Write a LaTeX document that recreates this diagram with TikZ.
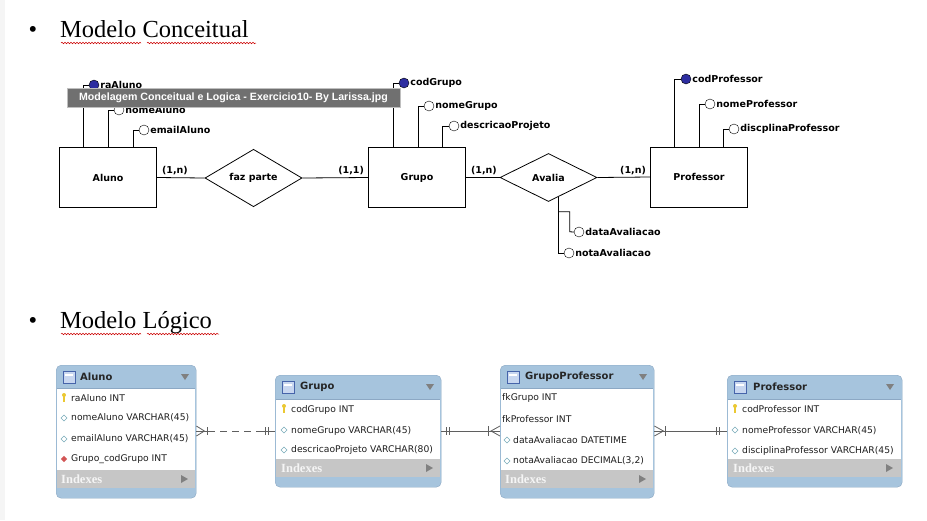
\documentclass[tikz,border=0pt]{standalone}
\usepackage{fontspec}
\setmainfont{Liberation Serif}
\newfontfamily\erfont{DejaVu Sans}
\newfontfamily\tipfont{Liberation Sans}
\usetikzlibrary{shapes.geometric,decorations.pathmorphing}

\definecolor{pkblue}{RGB}{45,45,160}
\definecolor{hdrblue}{RGB}{166,196,221}
\definecolor{tblborder}{RGB}{140,168,196}
\definecolor{idxgray}{RGB}{198,198,198}
\definecolor{linkgray}{RGB}{95,95,95}
\definecolor{rowtxt}{RGB}{30,30,30}
\definecolor{tipgray}{RGB}{112,112,112}
\definecolor{keyyellow}{RGB}{235,200,50}
\definecolor{fkred}{RGB}{210,85,85}
\definecolor{attrcyan}{RGB}{120,170,185}
\definecolor{iconblue}{RGB}{70,100,170}
\definecolor{iconfill}{RGB}{200,215,240}

\tikzset{
  title/.style={font=\fontsize{24.5}{28}\selectfont, inner sep=0pt},
  squiggle/.style={red!80!black, line width=0.5pt, decorate,
    decoration={snake, amplitude=0.8pt, segment length=3pt}},
  entity/.style={draw, line width=0.9pt, minimum width=97pt, minimum height=60pt,
    font=\erfont\bfseries\fontsize{9.5}{11}\selectfont},
  relation/.style={draw, diamond, line width=0.8pt, minimum width=97pt, minimum height=48pt,
    inner sep=0pt, font=\erfont\bfseries\fontsize{9.5}{11}\selectfont},
  attr/.style={circle, draw, fill=white, minimum size=10pt, inner sep=0pt},
  keyattr/.style={attr, fill=pkblue},
  erlabel/.style={font=\erfont\bfseries\fontsize{9.5}{11}\selectfont, inner sep=1pt},
  card/.style={font=\erfont\bfseries\fontsize{9.5}{11}\selectfont, inner sep=1pt},
  erline/.style={line width=0.8pt},
  tooltip/.style={fill=tipgray, draw=gray!50, text=white,
    font=\tipfont\bfseries\fontsize{10.6}{13}\selectfont, minimum width=333pt, minimum height=19pt, inner sep=0pt},
  tablebox/.style={draw=tblborder, fill=hdrblue, rounded corners=5pt, anchor=north west, inner sep=0pt},
  tabletitle/.style={anchor=west, inner sep=0pt, font=\erfont\bfseries\fontsize{10}{12}\selectfont, text=black!85},
  rowtext/.style={anchor=west, inner sep=0pt, font=\erfont\fontsize{9.2}{10}\selectfont, text=rowtxt},
  idxtext/.style={anchor=west, inner sep=0pt, font=\bfseries\fontsize{12.5}{14}\selectfont, text=white!92!gray},
  link/.style={linkgray, line width=0.8pt},
}

\begin{document}
\begin{tikzpicture}[x=1pt, y=-1pt]
        \fill[white] (0,0) rectangle (927,520);
        \fill[gray!8] (0,0) rectangle (5,520);
        \useasboundingbox (0,0) rectangle (927,520);
        %% titles
        \node[title, anchor=base] (bConc) at (33,37) {\textbullet};
        \node[title, anchor=base west] (tConc) at (60,37) {Modelo Conceitual};
        \draw[squiggle] (61,43) -- (141,43);
        \draw[squiggle] (147,43) -- (256,43);
        \node[title, anchor=base] (bLog) at (33,328) {\textbullet};
        \node[title, anchor=base west] (tLog) at (60,328) {Modelo Lógico};
        \draw[squiggle] (61,334) -- (141,334);
        \draw[squiggle] (147,334) -- (219,334);
        %% conceptual model
        \node[entity] (aluno) at (108,177.5) {Aluno};
        \node[entity] (grupo) at (417,177.5) {Grupo};
        \node[entity] (professor) at (699,177) {Professor};
        \node[relation] (fazparte) at (253.5,178) {faz parte};
        \node[relation] (avalia) at (548.5,177.5) {Avalia};
        \draw[erline] (aluno.east) -- (fazparte.west);
        \draw[erline] (fazparte.east) -- (grupo.west);
        \draw[erline] (grupo.east) -- (avalia.west);
        \draw[erline] (avalia.east) -- (professor.west);
        \node[card, anchor=south west] at ([xshift=4pt,yshift=1pt]aluno.east) {(1,n)};
        \node[card, anchor=south east] at ([xshift=-3pt,yshift=1pt]grupo.west) {(1,1)};
        \node[card, anchor=south west] at ([xshift=4pt,yshift=1pt]grupo.east) {(1,n)};
        \node[card, anchor=south east] at ([xshift=-3pt,yshift=1pt]professor.west) {(1,n)};
        % Aluno attributes
        \node[keyattr, label={[erlabel]right:raAluno}] (raAluno) at (94,85) {};
        \node[attr, label={[erlabel]right:nomeAluno}] (nomeAluno) at (119,110) {};
        \node[attr, label={[erlabel]right:emailAluno}] (emailAluno) at (144,130) {};
        \draw[erline] (raAluno.west) -| ([xshift=-25pt]aluno.north);
        \draw[erline] (nomeAluno.west) -| (aluno.north);
        \draw[erline] (emailAluno.west) -| ([xshift=25pt]aluno.north);
        % Grupo attributes
        \node[keyattr, label={[erlabel]right:codGrupo}] (codGrupo) at (404,83) {};
        \node[attr, label={[erlabel]right:nomeGrupo}] (nomeGrupo) at (429,106) {};
        \node[attr, label={[erlabel]right:descricaoProjeto}] (descricaoProjeto) at (454,126) {};
        \draw[erline] (codGrupo.west) -| ([xshift=-24pt]grupo.north);
        \draw[erline] (nomeGrupo.west) -| ([xshift=1pt]grupo.north);
        \draw[erline] (descricaoProjeto.west) -| ([xshift=25pt]grupo.north);
        % Professor attributes
        \node[keyattr, label={[erlabel]right:codProfessor}] (codProfessor) at (686,79) {};
        \node[attr, label={[erlabel]right:nomeProfessor}] (nomeProfessor) at (710,104) {};
        \node[attr, label={[erlabel]right:discplinaProfessor}] (discplinaProfessor) at (734,129) {};
        \draw[erline] (codProfessor.west) -| ([xshift=-25pt]professor.north);
        \draw[erline] (nomeProfessor.west) -| (professor.north);
        \draw[erline] (discplinaProfessor.west) -| ([xshift=24pt]professor.north);
        % Avalia attributes
        \node[attr, label={[erlabel]right:dataAvaliacao}] (dataAvaliacao) at (579,232) {};
        \node[attr, label={[erlabel]right:notaAvaliacao}] (notaAvaliacao) at (569,253) {};
        \draw[erline] (avalia.-62) |- (notaAvaliacao.west);
        \draw[erline] (avalia.-62) ++(0,15) -| ++(11,20) -- (dataAvaliacao.west);
        % file name tooltip
        \node[tooltip] (tip) at (233.5,97.5) {Modelagem Conceitual e Logica - Exercicio10- By Larissa.jpg};
        %% logical model
        % Aluno
        \node[tablebox, minimum width=140pt, minimum height=133pt] (tAluno) at (56,365) {};
        \fill[white] (56.6,388) rectangle (195.4,470);
        \fill[idxgray] (56.6,470) rectangle (195.4,488);
        \draw[tblborder] (56.6,388) -- (195.4,388);
        \draw[iconblue, fill=iconfill] (63,371) rectangle (75,383);
        \draw[white, line width=1.2pt] (65,375) -- (73,375);
        \node[tabletitle] (hAluno) at (80,377) {Aluno};
        \fill[gray] (181,374) -- (189,374) -- (185,380) -- cycle;
        \fill[keyyellow] (64,395) circle (2pt);
        \fill[keyyellow] (63.3,396) rectangle (64.7,402);
        \draw[attrcyan] (64,418) +(-3,0) -- +(0,-3) -- +(3,0) -- +(0,3) -- cycle;
        \draw[attrcyan] (64,439) +(-3,0) -- +(0,-3) -- +(3,0) -- +(0,3) -- cycle;
        \fill[fkred] (64,459) +(-3.2,0) -- +(0,-3.2) -- +(3.2,0) -- +(0,3.2) -- cycle;
        \node[rowtext] (aRa) at (71,398) {raAluno INT};
        \node[rowtext] (aNome) at (71,418) {nomeAluno VARCHAR(45)};
        \node[rowtext] (aEmail) at (71,439) {emailAluno VARCHAR(45)};
        \node[rowtext] (aFk) at (71,459) {Grupo\_codGrupo INT};
        \node[idxtext] (iAluno) at (61,479) {Indexes};
        \fill[gray] (181,475) -- (188,479) -- (181,483) -- cycle;
        % Grupo
        \node[tablebox, minimum width=166pt, minimum height=112pt] (tGrupo) at (275,375) {};
        \fill[white] (275.6,399) rectangle (440.4,459);
        \fill[idxgray] (275.6,459) rectangle (440.4,477);
        \draw[tblborder] (275.6,399) -- (440.4,399);
        \draw[iconblue, fill=iconfill] (282,381) rectangle (294,393);
        \draw[white, line width=1.2pt] (284,385) -- (292,385);
        \node[tabletitle] (hGrupo) at (300,387) {Grupo};
        \fill[gray] (426,384) -- (434,384) -- (430,390) -- cycle;
        \fill[keyyellow] (284,406) circle (2pt);
        \fill[keyyellow] (283.3,407) rectangle (284.7,413);
        \draw[attrcyan] (284,430) +(-3,0) -- +(0,-3) -- +(3,0) -- +(0,3) -- cycle;
        \draw[attrcyan] (284,450) +(-3,0) -- +(0,-3) -- +(3,0) -- +(0,3) -- cycle;
        \node[rowtext] (gCod) at (291,409.5) {codGrupo INT};
        \node[rowtext] (gNome) at (291,431) {nomeGrupo VARCHAR(45)};
        \node[rowtext] (gDesc) at (291,450) {descricaoProjeto VARCHAR(80)};
        \node[idxtext] (iGrupo) at (281,468) {Indexes};
        \fill[gray] (426,464) -- (433,468) -- (426,472) -- cycle;
        % GrupoProfessor
        \node[tablebox, minimum width=154pt, minimum height=133pt] (tGP) at (500,365) {};
        \fill[white] (500.6,388) rectangle (653.4,470);
        \fill[idxgray] (500.6,470) rectangle (653.4,488);
        \draw[tblborder] (500.6,388) -- (653.4,388);
        \draw[iconblue, fill=iconfill] (507,371) rectangle (519,383);
        \draw[white, line width=1.2pt] (509,375) -- (517,375);
        \node[tabletitle] (hGP) at (525,377) {GrupoProfessor};
        \fill[gray] (639,374) -- (647,374) -- (643,380) -- cycle;
        \draw[attrcyan] (507,440) +(-3,0) -- +(0,-3) -- +(3,0) -- +(0,3) -- cycle;
        \draw[attrcyan] (507,461) +(-3,0) -- +(0,-3) -- +(3,0) -- +(0,3) -- cycle;
        \node[rowtext] (gpGrupo) at (502,398) {fkGrupo INT};
        \node[rowtext] (gpProf) at (502,419) {fkProfessor INT};
        \node[rowtext] (gpData) at (513,440) {dataAvaliacao DATETIME};
        \node[rowtext] (gpNota) at (513,461) {notaAvaliacao DECIMAL(3,2)};
        \node[idxtext] (iGP) at (505,479) {Indexes};
        \fill[gray] (639,475) -- (646,479) -- (639,483) -- cycle;
        % Professor
        \node[tablebox, minimum width=175pt, minimum height=112pt] (tProf) at (727,375) {};
        \fill[white] (727.6,399) rectangle (901.4,459);
        \fill[idxgray] (727.6,459) rectangle (901.4,477);
        \draw[tblborder] (727.6,399) -- (901.4,399);
        \draw[iconblue, fill=iconfill] (734,381) rectangle (746,393);
        \draw[white, line width=1.2pt] (736,385) -- (744,385);
        \node[tabletitle] (hProf) at (753,387) {Professor};
        \fill[gray] (886,384) -- (894,384) -- (890,390) -- cycle;
        \fill[keyyellow] (735,406) circle (2pt);
        \fill[keyyellow] (734.3,407) rectangle (735.7,413);
        \draw[attrcyan] (735,430) +(-3,0) -- +(0,-3) -- +(3,0) -- +(0,3) -- cycle;
        \draw[attrcyan] (735,451) +(-3,0) -- +(0,-3) -- +(3,0) -- +(0,3) -- cycle;
        \node[rowtext] (pCod) at (742,409.5) {codProfessor INT};
        \node[rowtext] (pNome) at (742,431) {nomeProfessor VARCHAR(45)};
        \node[rowtext] (pDisc) at (742,451) {disciplinaProfessor VARCHAR(45)};
        \node[idxtext] (iProf) at (733,468) {Indexes};
        \fill[gray] (886,464) -- (893,468) -- (886,472) -- cycle;
        % relationships
        \draw[link, dash pattern=on 7pt off 5pt] (tAluno.east |- gNome) -- (tGrupo.west |- gNome);
        \draw[link] (tAluno.east |- gNome) -- ++(16,0);
        \draw[link] (tGrupo.west |- gNome) -- ++(-12,0);
        \draw[link] (tAluno.east |- gNome) ++(0,-5) -- ++(8,5) -- ++(-8,5);
        \draw[link] (tAluno.east |- gNome) ++(11,-4) -- ++(0,8);
        \draw[link] (tGrupo.west |- gNome) ++(-10,-4) -- ++(0,8);
        \draw[link] (tGrupo.west |- gNome) ++(-7,-4) -- ++(0,8);
        \draw[link] (tGrupo.east |- gNome) -- (tGP.west |- gNome);
        \draw[link] (tGrupo.east |- gNome) ++(5,-4) -- ++(0,8);
        \draw[link] (tGrupo.east |- gNome) ++(8,-4) -- ++(0,8);
        \draw[link] (tGP.west |- gNome) ++(-12,-5) -- ++(0,10);
        \draw[link] (tGP.west |- gNome) ++(0,-5) -- ++(-9,5) -- ++(9,5);
        \draw[link] (tGP.east |- pNome) -- (tProf.west |- pNome);
        \draw[link] (tGP.east |- pNome) ++(0,-5) -- ++(9,5) -- ++(-9,5);
        \draw[link] (tGP.east |- pNome) ++(11,-5) -- ++(0,10);
        \draw[link] (tProf.west |- pNome) ++(-11,-4) -- ++(0,8);
        \draw[link] (tProf.west |- pNome) ++(-8,-4) -- ++(0,8);
\end{tikzpicture}
\end{document}
